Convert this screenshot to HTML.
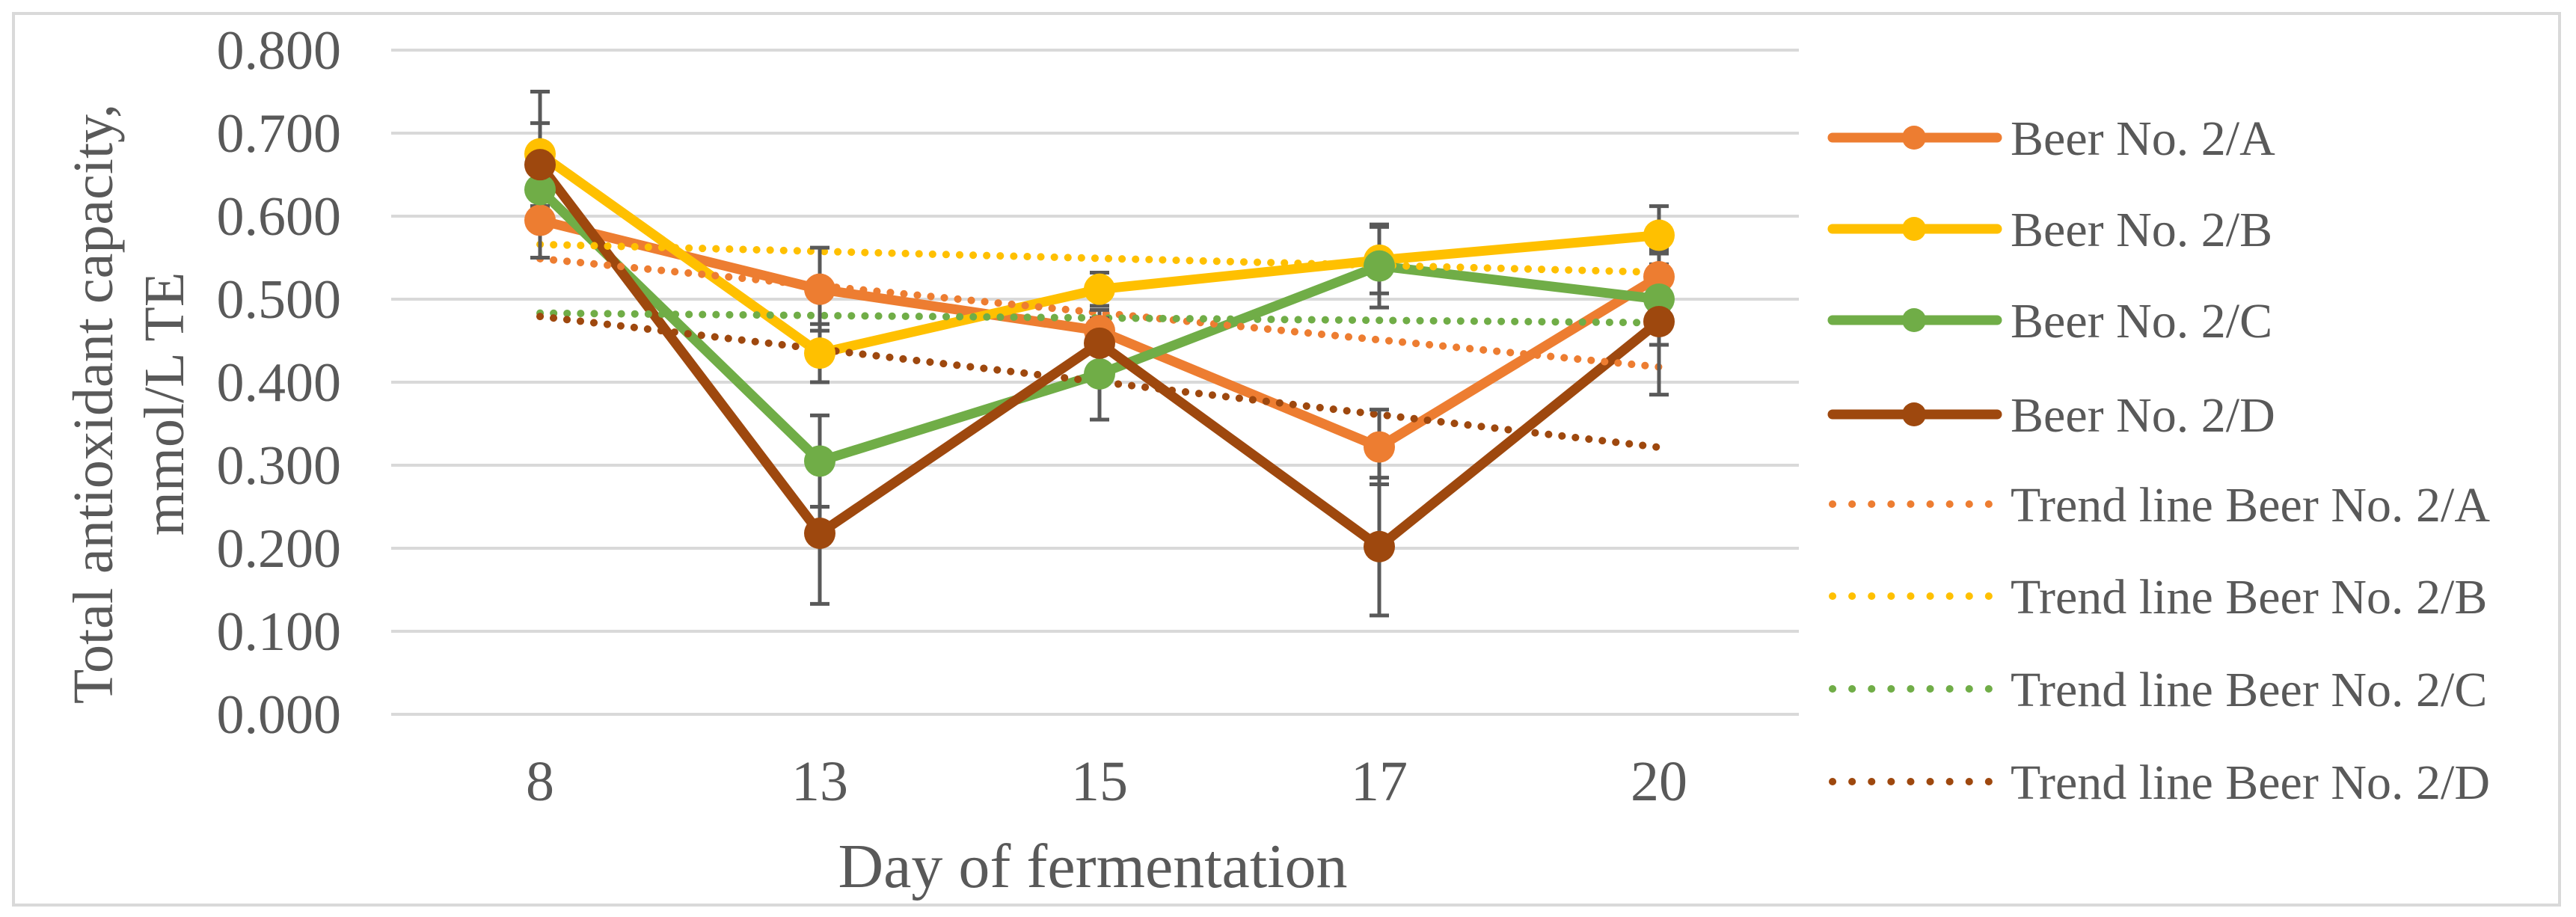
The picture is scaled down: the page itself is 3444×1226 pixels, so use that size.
<!DOCTYPE html>
<html><head><meta charset="utf-8"><style>
html,body{margin:0;padding:0;background:#fff;}
svg{display:block;font-family:"Liberation Serif",serif;}
</style></head><body>
<svg id="chart" width="3444" height="1226" viewBox="0 0 3444 1226">
<rect x="18" y="18" width="3404" height="1192" fill="#fff" stroke="#d9d9d9" stroke-width="4"/>
<g id="grid"></g><g id="yticks"></g><g id="xticks"></g>
<g id="series"></g><g id="trends"></g><g id="errors"></g><g id="markers"></g>
<text transform="translate(150,540) rotate(-90)" text-anchor="middle" font-size="76" fill="#595959"><tspan x="0" y="0">Total antioxidant capacity,</tspan><tspan x="0" y="95">mmol/L TE</tspan></text>
<text x="1461" y="1186" text-anchor="middle" font-size="84" fill="#595959">Day of fermentation</text>
<g id="legend"></g>
</svg>
<script>
const categories = ["8","13","15","17","20"];
const yTicks = [0,0.1,0.2,0.3,0.4,0.5,0.6,0.7,0.8];
const seriesNames = ["Beer No. 2/A","Beer No. 2/B","Beer No. 2/C","Beer No. 2/D"];
const seriesA = [0.595,0.512,0.462,0.322,0.527];
const seriesB = [0.675,0.435,0.512,0.547,0.577];
const seriesC = [0.632,0.305,0.410,0.540,0.500];
const seriesD = [0.662,0.218,0.447,0.202,0.473];
const errA = [0.045,0.050,0.025,0.045,0.030];
const errB = [0.075,0.035,0.020,0.040,0.035];
const errC = [0.020,0.055,0.055,0.050,0.055];
const errD = [0.050,0.085,0.030,0.083,0.088];
const colors = ["#ED7D31","#FFC000","#70AD47","#9E480E"];

const NS="http://www.w3.org/2000/svg";
const L=535,R=2405,T=67,B=955,yMax=0.8;
const step=(R-L)/categories.length;
const xs=i=>L+step*(i+0.5);
const ys=v=>B-(v/yMax)*(B-T);
function mk(tag,attrs,parent){const e=document.createElementNS(NS,tag);for(const k in attrs)e.setAttribute(k,attrs[k]);document.getElementById(parent).appendChild(e);return e;}

yTicks.forEach(v=>{
  const g=mk('line',{x1:L-12,x2:R,y1:ys(v),y2:ys(v),stroke:'#d9d9d9','stroke-width':4},'grid');
  
  
  const t=mk('text',{x:456,y:ys(v)+25,'text-anchor':'end','font-size':74,fill:'#595959'},'yticks');
  t.textContent=v.toFixed(3);
  
  
});
categories.forEach((c,i)=>{
  const t=mk('text',{x:xs(i),y:1070,'text-anchor':'middle','font-size':76,fill:'#595959'},'xticks');
  t.textContent=c;
  
  
});
const all=[seriesA,seriesB,seriesC,seriesD];
const errs=[errA,errB,errC,errD];
all.forEach((s,k)=>{
  const pts=s.map((v,i)=>xs(i)+','+ys(v)).join(' ');
  const pl=mk('polyline',{points:pts,fill:'none',stroke:colors[k],'stroke-width':13,'stroke-linejoin':'round','stroke-linecap':'round'},'series');
  
  
  const n=s.length;let mx=(n+1)/2,my=s.reduce((a,b)=>a+b,0)/n,num=0,den=0;
  s.forEach((v,i)=>{num+=(i+1-mx)*(v-my);den+=(i+1-mx)*(i+1-mx);});
  const sl=num/den,ic=my-sl*mx;
  const tl=mk('line',{x1:xs(0),y1:ys(ic+sl*1),x2:xs(n-1),y2:ys(ic+sl*n),stroke:colors[k],'stroke-width':10,'stroke-linecap':'round','stroke-dasharray':'0.1 18'},'trends');
  
  
  s.forEach((v,i)=>{
    const e=errs[k][i],x=xs(i);
    const el=mk('path',{d:`M${x},${ys(v-e)}V${ys(v+e)}M${x-13},${ys(v-e)}H${x+13}M${x-13},${ys(v+e)}H${x+13}`,stroke:'#595959','stroke-width':5,fill:'none'},'errors');
    
    
  });
});
all.forEach((s,k)=>{
  s.forEach((v,i)=>{
    const m=mk('circle',{cx:xs(i),cy:ys(v),r:21,fill:colors[k]},'markers');
    
    
  });
});
const rowY=[184,306,428,554,674,797,921,1045];
for(let r=0;r<8;r++){
  const k=r%4,y=rowY[r];
  if(r<4){
    const l=mk('line',{x1:2450,x2:2670,y1:y,y2:y,stroke:colors[k],'stroke-width':13,'stroke-linecap':'round'},'legend');
    
    
    const c=mk('circle',{cx:2559,cy:y,r:16,fill:colors[k]},'legend');
    
    
  } else {
    const l=mk('line',{x1:2450,x2:2660,y1:y,y2:y,stroke:colors[k],'stroke-width':10,'stroke-linecap':'round','stroke-dasharray':'0.1 26'},'legend');
    
    
  }
  const t=mk('text',{x:2688,y:y+23,'font-size':66,fill:'#595959'},'legend');
  t.textContent=(r<4?'':'Trend line ')+seriesNames[k];
  
  
}
</script>
</body></html>
